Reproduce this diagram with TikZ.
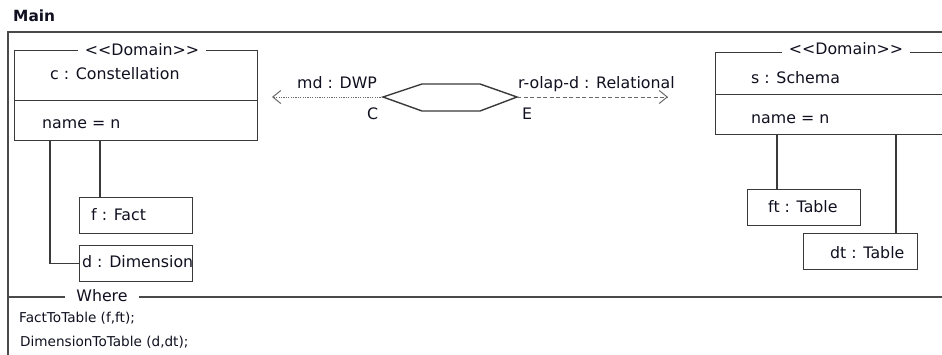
\documentclass[tikz,border=0pt]{standalone}
\usepackage{fontspec}
\setmainfont{DejaVu Sans}
\usetikzlibrary{arrows.meta}

\definecolor{txt}{HTML}{101020}
\definecolor{boxline}{HTML}{3A3A3A}
\definecolor{frameline}{HTML}{4A4A4A}
\definecolor{linkline}{HTML}{6A6A6A}

\newcommand{\stereo}[1]{<\kern0pt<#1>\kern0pt>}

\tikzset{
  lbl/.style={font=\fontsize{15.8}{18}\selectfont, text=txt, inner sep=0pt, anchor=base west},
  small/.style={font=\fontsize{13.6}{16}\selectfont, text=txt, inner sep=0pt, anchor=base west},
  objbox/.style={draw=boxline, line width=1.3pt, fill=white, anchor=north west, inner sep=0pt},
  tag/.style={font=\fontsize{15.8}{18}\selectfont, text=txt, fill=white, inner xsep=7pt, inner ysep=0pt, anchor=base},
  link/.style={draw=boxline, line width=1.3pt},
  mapping/.style={draw=linkline, line width=1pt, -{Straight Barb[length=8pt,width=13pt]}}
}

\begin{document}
\begin{tikzpicture}[x=1pt, y=-1pt]
\useasboundingbox (0,0) rectangle (942,354);
\clip (0,0) rectangle (942,354);
\fill[white] (0,0) rectangle (942,354);

% title and outer frame
\node[lbl, font=\fontsize{15.4}{18}\selectfont\bfseries] (title) at (13,21) {Main};
\draw[frameline, line width=1.3pt] (960,32) -- (8,32) -- (8,370);
\draw[frameline, line width=1.1pt] (8,297) -- (960,297);
\node[tag, inner xsep=11pt] (where) at (102,301) {Where};

% left domain: c : Constellation
\node[objbox, minimum width=243pt, minimum height=50pt] (chead) at (14,50) {};
\node[objbox, minimum width=243pt, minimum height=40pt] (cattr) at (14,100) {};
\node[tag] (cdom) at (142,55) {\stereo{Domain}};
\node[lbl] (ctitle) at (50,79) {c : Constellation};
\node[lbl] (cname) at (42,128) {name = n};

\node[objbox, minimum width=113pt, minimum height=36pt] (f) at (79,197) {};
\node[lbl] (ftext) at (91,220) {f : Fact};
\node[objbox, minimum width=113pt, minimum height=36pt] (d) at (79,245) {};
\node[lbl] (dtext) at (82,267) {d : Dimension};

\coordinate (cx1) at (100,0);
\coordinate (cx2) at (50,0);
\draw[link] (cattr.south -| cx1) -- (f.north -| cx1);
\draw[link] (cattr.south -| cx2) |- (d.west);

% right domain: s : Schema
\node[objbox, minimum width=270pt, minimum height=42pt] (shead) at (715,52) {};
\node[objbox, minimum width=270pt, minimum height=40pt] (sattr) at (715,94) {};
\node[tag] (sdom) at (846,54) {\stereo{Domain}};
\node[lbl] (stitle) at (751,83) {s : Schema};
\node[lbl] (sname) at (751,123) {name = n};

\node[objbox, minimum width=113pt, minimum height=36pt] (ft) at (747,189) {};
\node[lbl] (fttext) at (768,212) {ft : Table};
\node[objbox, minimum width=114pt, minimum height=36pt] (dt) at (803,233) {};
\node[lbl] (dttext) at (830,258) {dt : Table};

\coordinate (sx1) at (777,0);
\coordinate (sx2) at (896,0);
\draw[link] (sattr.south -| sx1) -- (ft.north -| sx1);
\draw[link] (sattr.south -| sx2) -- (dt.north -| sx2);

% transformation hexagon with its two domain links
\coordinate (hexL) at (383,97);
\coordinate (hexR) at (517,97);
\draw[boxline, line width=1.4pt, line join=miter]
  (hexL) -- (422,84) -- (480,84) -- (hexR) -- (480,111) -- (422,111) -- cycle;

\coordinate (mdend) at (272,97);
\coordinate (rend) at (668,97);
\draw[mapping, dash pattern=on 1.2pt off 1.2pt] (hexL) -- (mdend);
\draw[mapping, dash pattern=on 4pt off 2.5pt] (hexR) -- (rend);

\node[lbl] (mdlbl) at (297,88) {md : DWP};
\node[lbl] (clbl) at (367,119) {C};
\node[lbl] (rlbl) at (518,88) {r-olap-d : Relational};
\node[lbl] (elbl) at (522,119) {E};

% where clause
\node[small] (w1) at (19,322) {FactToTable (f,ft);};
\node[small] (w2) at (20,346) {DimensionToTable (d,dt);};
\end{tikzpicture}
\end{document}
